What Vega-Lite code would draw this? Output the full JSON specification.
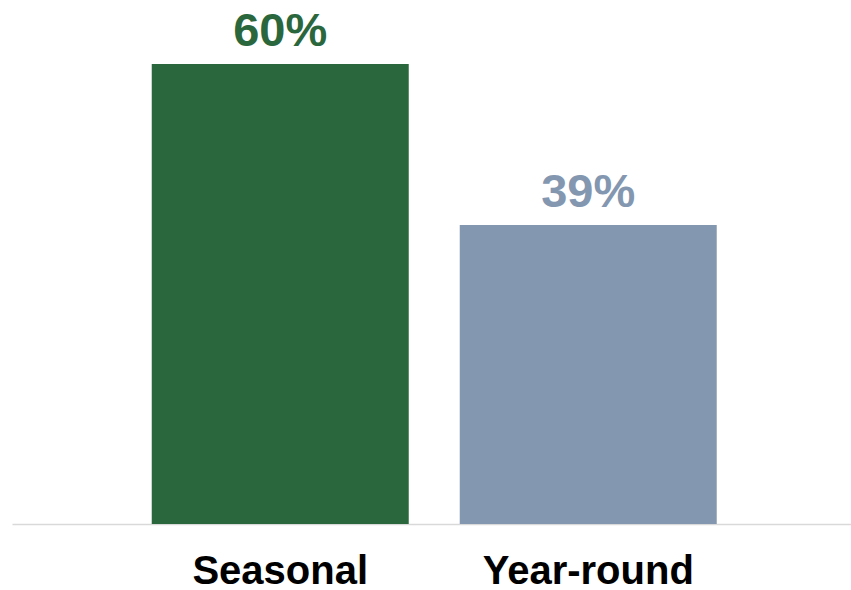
{
  "$schema": "https://vega.github.io/schema/vega-lite/v6.json",
  "width": 839,
  "height": 524,
  "autosize": "none",
  "padding": {"left": 12, "top": 0, "right": 0, "bottom": 66},
  "background": "white",
  "config": {"view": {"stroke": null}},
  "data": {"values": [
    {"category": "Seasonal", "share": 0.60},
    {"category": "Year-round", "share": 0.39}
  ]},
  "encoding": {
    "x": {
      "field": "category", "type": "nominal", "sort": null, "title": null,
      "scale": {"paddingInner": 0.1656, "paddingOuter": 0.4448, "align": 0.51},
      "axis": {
        "labelAngle": 0, "ticks": false, "domainColor": "#d9d9d9", "domainWidth": 1.5,
        "labelFont": "Liberation Sans", "labelFontWeight": "bold", "labelFontSize": 40,
        "labelColor": "#000000", "labelBaseline": "alphabetic", "labelPadding": 59,
        "labelLimit": 0, "labelOverlap": false
      }
    },
    "y": {"field": "share", "type": "quantitative", "scale": {"domain": [0, 0.6835]}, "axis": null},
    "color": {"field": "category", "type": "nominal", "scale": {"domain": ["Seasonal", "Year-round"], "range": ["#2a673c", "#8497b0"]}, "legend": null}
  },
  "layer": [
    {"mark": {"type": "bar"}},
    {
      "mark": {"type": "text", "baseline": "alphabetic", "dy": -18, "font": "Liberation Sans", "fontWeight": "bold", "fontSize": 47},
      "encoding": {"text": {"field": "share", "type": "quantitative", "format": ".0%"}}
    }
  ]
}
